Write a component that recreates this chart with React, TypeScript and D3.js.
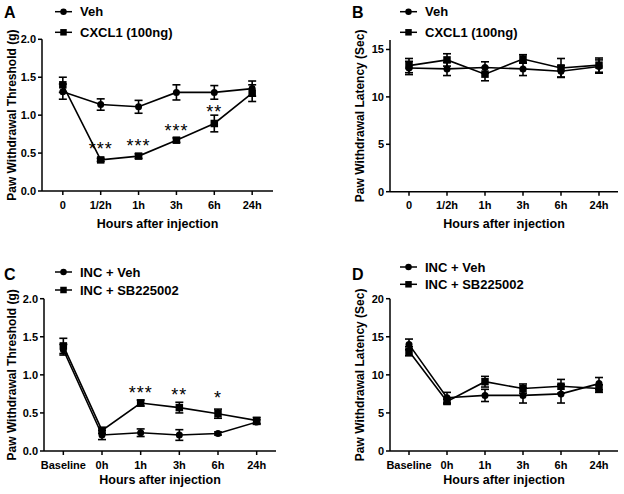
import React from "react";
import * as d3 from "d3";

const catsAB = ["0", "1/2h", "1h", "3h", "6h", "24h"];
const catsCD = ["Baseline", "0h", "1h", "3h", "6h", "24h"];

// panel A: mechanical threshold (g)
const vehA = [1.31, 1.14, 1.11, 1.3, 1.3, 1.35];
const vehAErr = [0.1, 0.075, 0.085, 0.1, 0.09, 0.1];
const cxclA = [1.4, 0.41, 0.46, 0.67, 0.89, 1.29];
const cxclAErr = [0.1, 0.02, 0.03, 0.03, 0.11, 0.11];
const starsA = [
  { cat: "1/2h", label: "***", y: 0.61 },
  { cat: "1h", label: "***", y: 0.64 },
  { cat: "3h", label: "***", y: 0.84 },
  { cat: "6h", label: "**", y: 1.09 },
];

// panel B: thermal latency (sec)
const vehB = [13.05, 12.95, 13.1, 12.95, 12.7, 13.2];
const vehBErr = [0.7, 0.7, 0.6, 0.7, 0.6, 0.7];
const cxclB = [13.3, 13.9, 12.4, 14.0, 13.05, 13.35];
const cxclBErr = [0.75, 0.65, 0.7, 0.45, 1.0, 0.75];

// panel C: threshold after incision
const vehC = [1.33, 0.21, 0.24, 0.21, 0.23, 0.38];
const vehCErr = [0.07, 0.06, 0.05, 0.07, 0.02, 0.03];
const sbC = [1.38, 0.27, 0.63, 0.57, 0.49, 0.4];
const sbCErr = [0.1, 0.04, 0.04, 0.07, 0.06, 0.04];
const starsC = [
  { cat: "1h", label: "***", y: 0.82 },
  { cat: "3h", label: "**", y: 0.79 },
  { cat: "6h", label: "*", y: 0.75 },
];

// panel D: latency after incision
const vehD = [14.0, 7.0, 7.3, 7.3, 7.5, 8.85];
const vehDErr = [0.7, 0.7, 0.8, 1.0, 1.2, 0.8];
const sbD = [13.1, 6.5, 9.1, 8.2, 8.5, 8.2];
const sbDErr = [0.6, 0.3, 0.7, 0.6, 0.9, 0.5];

const FONT = "'Liberation Sans', Arial, Helvetica, sans-serif";

type Series = { name: string; shape: "circle" | "square"; values: number[]; errors: number[] };

type PanelProps = {
  letter: string;
  letterX: number;
  letterY: number;
  x0: number;
  x1: number;
  yTop: number;
  yBottom: number;
  domain: [number, number];
  ticks: number[];
  fmt: string;
  cats: string[];
  padding: number;
  series: Series[];
  legendX: number;
  legendY: [number, number];
  stars?: { cat: string; label: string; y: number }[];
  yTitle: string;
  yTitleX: number;
  xTitleY: number;
};

function Marker({ shape, x, y, size }: { shape: string; x: number; y: number; size: number }) {
  if (shape === "circle") return <circle cx={x} cy={y} r={size / 2} fill="#000" />;
  return <rect x={x - size / 2} y={y - size / 2} width={size} height={size} fill="#000" />;
}

function Panel(p: PanelProps) {
  const x = d3.scalePoint<string>().domain(p.cats).range([p.x0, p.x1]).padding(p.padding);
  const y = d3.scaleLinear().domain(p.domain).range([p.yBottom, p.yTop]);
  const fmt = d3.format(p.fmt);
  const line = d3
    .line<number>()
    .x((_, i) => x(p.cats[i]) as number)
    .y((d) => y(d));
  const midY = (p.yTop + p.yBottom) / 2;
  const midX = (p.x0 + p.x1) / 2;

  return (
    <g fontFamily={FONT} fill="#000">
      <text x={p.letterX} y={p.letterY} fontSize={16} fontWeight="bold">
        {p.letter}
      </text>

      {/* legend */}
      {p.series.map((s, i) => (
        <g key={s.name}>
          <line x1={p.legendX} x2={p.legendX + 17} y1={p.legendY[i]} y2={p.legendY[i]} stroke="#000" strokeWidth={1.5} />
          <Marker shape={s.shape} x={p.legendX + 8.5} y={p.legendY[i]} size={s.shape === "circle" ? 6.5 : 6.5} />
          <text x={p.legendX + 25} y={p.legendY[i] + 4.7} fontSize={13} fontWeight="bold">
            {s.name}
          </text>
        </g>
      ))}

      {/* y axis */}
      <line x1={p.x0} x2={p.x0} y1={p.yTop} y2={p.yBottom} stroke="#000" strokeWidth={1.5} />
      {p.ticks.map((t) => (
        <g key={t}>
          <line x1={p.x0 - 4} x2={p.x0} y1={y(t)} y2={y(t)} stroke="#000" strokeWidth={1.5} />
          <text x={p.x0 - 6} y={y(t) + 4} fontSize={11} fontWeight="bold" textAnchor="end">
            {fmt(t)}
          </text>
        </g>
      ))}
      <text
        transform={`translate(${p.yTitleX},${midY}) rotate(-90)`}
        fontSize={12}
        fontWeight="bold"
        textAnchor="middle"
      >
        {p.yTitle}
      </text>

      {/* x axis */}
      <line x1={p.x0} x2={p.x1} y1={p.yBottom} y2={p.yBottom} stroke="#000" strokeWidth={1.5} />
      {p.cats.map((c) => (
        <g key={c}>
          <line x1={x(c)} x2={x(c)} y1={p.yBottom} y2={p.yBottom + 4} stroke="#000" strokeWidth={1.5} />
          <text x={x(c)} y={p.yBottom + 17.5} fontSize={11} fontWeight="bold" textAnchor="middle">
            {c}
          </text>
        </g>
      ))}
      <text x={midX} y={p.xTitleY} fontSize={12.5} fontWeight="bold" textAnchor="middle">
        Hours after injection
      </text>

      {/* data */}
      {p.series.map((s) => (
        <g key={s.name}>
          <path d={line(s.values) as string} fill="none" stroke="#000" strokeWidth={1.6} />
          {s.values.map((v, i) => {
            const cx = x(p.cats[i]) as number;
            const lo = y(v - s.errors[i]);
            const hi = y(v + s.errors[i]);
            return (
              <g key={i}>
                <line x1={cx} x2={cx} y1={lo} y2={hi} stroke="#000" strokeWidth={1.6} />
                <line x1={cx - 4} x2={cx + 4} y1={lo} y2={lo} stroke="#000" strokeWidth={1.6} />
                <line x1={cx - 4} x2={cx + 4} y1={hi} y2={hi} stroke="#000" strokeWidth={1.6} />
                <Marker shape={s.shape} x={cx} y={y(v)} size={s.shape === "circle" ? 7 : 7.5} />
              </g>
            );
          })}
        </g>
      ))}

      {(p.stars || []).map((s) => (
        <text key={s.cat} x={x(s.cat)} y={y(s.y) + 10} fontSize={18} textAnchor="middle" letterSpacing={1}>
          {s.label}
        </text>
      ))}
    </g>
  );
}

export default function App() {
  return (
    <svg width={624} height={494} style={{ position: "absolute", left: 0, top: 0, background: "#fff" }}>
      <Panel
        letter="A"
        letterX={4}
        letterY={18}
        x0={42}
        x1={273}
        yTop={39.3}
        yBottom={191}
        domain={[0, 2]}
        ticks={[0, 0.5, 1, 1.5, 2]}
        fmt=".1f"
        cats={catsAB}
        padding={0.55}
        series={[
          { name: "Veh", shape: "circle", values: vehA, errors: vehAErr },
          { name: "CXCL1 (100ng)", shape: "square", values: cxclA, errors: cxclAErr },
        ]}
        legendX={55}
        legendY={[11.7, 32.3]}
        stars={starsA}
        yTitle="Paw Withdrawal Threshold (g)"
        yTitleX={15.5}
        xTitleY={228}
      />
      <Panel
        letter="B"
        letterX={352}
        letterY={18}
        x0={390}
        x1={618}
        yTop={40}
        yBottom={191.7}
        domain={[0, 16]}
        ticks={[0, 5, 10, 15]}
        fmt="d"
        cats={catsAB}
        padding={0.5}
        series={[
          { name: "Veh", shape: "circle", values: vehB, errors: vehBErr },
          { name: "CXCL1 (100ng)", shape: "square", values: cxclB, errors: cxclBErr },
        ]}
        legendX={400}
        legendY={[11.7, 32.3]}
        yTitle="Paw Withdrawal Latency (Sec)"
        yTitleX={364}
        xTitleY={228}
      />
      <Panel
        letter="C"
        letterX={4}
        letterY={280}
        x0={44}
        x1={276}
        yTop={298.7}
        yBottom={451}
        domain={[0, 2]}
        ticks={[0, 0.5, 1, 1.5, 2]}
        fmt=".1f"
        cats={catsCD}
        padding={0.5}
        series={[
          { name: "INC + Veh", shape: "circle", values: vehC, errors: vehCErr },
          { name: "INC + SB225002", shape: "square", values: sbC, errors: sbCErr },
        ]}
        legendX={55}
        legendY={[272, 290]}
        stars={starsC}
        yTitle="Paw Withdrawal Threshold (g)"
        yTitleX={15.5}
        xTitleY={484}
      />
      <Panel
        letter="D"
        letterX={352}
        letterY={280}
        x0={390}
        x1={618}
        yTop={298.7}
        yBottom={451}
        domain={[0, 20]}
        ticks={[0, 5, 10, 15, 20]}
        fmt="d"
        cats={catsCD}
        padding={0.5}
        series={[
          { name: "INC + Veh", shape: "circle", values: vehD, errors: vehDErr },
          { name: "INC + SB225002", shape: "square", values: sbD, errors: sbDErr },
        ]}
        legendX={400}
        legendY={[267, 284.3]}
        yTitle="Paw Withdrawal Latency (Sec)"
        yTitleX={364}
        xTitleY={484}
      />
    </svg>
  );
}
